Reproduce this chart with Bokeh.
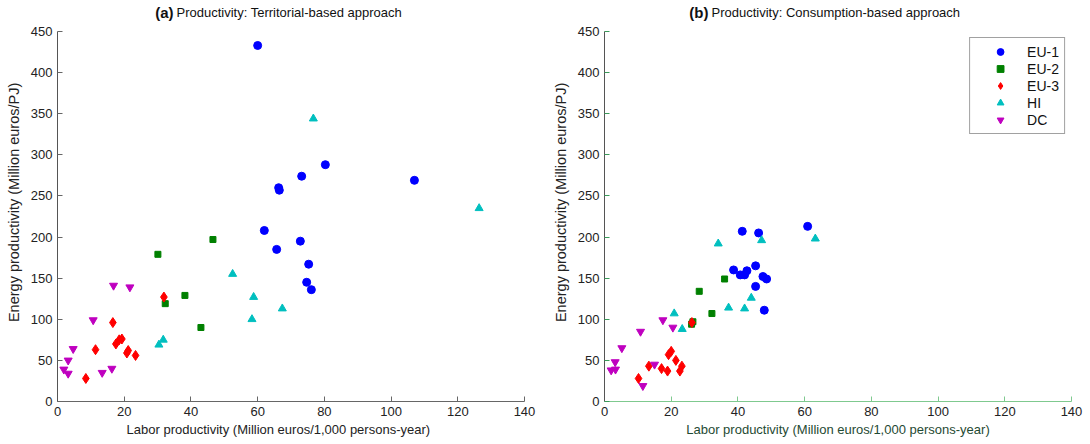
from bokeh.plotting import figure
from bokeh.layouts import row, column
from bokeh.models import Range1d, Legend, LegendItem
from bokeh.core.properties import value
from bokeh.embed import file_html
from bokeh.resources import INLINE

FONT = "Liberation Sans"

groups = ["EU-1", "EU-2", "EU-3", "HI", "DC"]
colors = ["#0000ff", "#008000", "#ff0000", "#00bfbf", "#bf00bf"]
markers = ["circle", "square", "diamond", "triangle", "inverted_triangle"]
sizes = [8, 6, 10, 8, 8]

x_ticks = [0, 20, 40, 60, 80, 100, 120, 140]
y_ticks = [0, 50, 100, 150, 200, 250, 300, 350, 400, 450]

# (a) Territorial-based approach
eu1_a_x = [60.0, 80.3, 73.2, 66.3, 66.5, 107.0, 62.0, 72.8, 65.7, 75.3, 74.7, 76.1]
eu1_a_y = [433, 288, 274, 260, 257, 269, 208, 195, 185, 167, 145, 136]
eu2_a_x = [30.1, 46.6, 38.2, 32.3, 43.0]
eu2_a_y = [179, 197, 129, 119, 90]
eu3_a_x = [31.9, 16.6, 11.4, 17.5, 18.5, 19.3, 21.2, 20.8, 23.4, 8.5]
eu3_a_y = [127, 96, 63, 70, 75, 76, 62, 59, 56, 28]
hi_a_x = [30.4, 31.7, 52.5, 58.8, 67.4, 58.3, 126.4, 76.7]
hi_a_y = [69, 75, 155, 127, 113, 100, 235, 344]
dc_a_x = [16.8, 21.7, 10.7, 4.7, 3.2, 1.9, 3.2, 13.4, 16.3]
dc_a_y = [141, 139, 99, 64, 50, 39, 34, 35, 40]

# (b) Consumption-based approach
eu1_b_x = [41.3, 46.2, 45.3, 38.7, 40.7, 42.0, 42.7, 47.5, 48.6, 45.3, 47.9, 60.9]
eu1_b_y = [207, 205, 165, 160, 154, 154, 159, 152, 149, 140, 111, 213]
eu2_b_x = [36.0, 28.4, 32.2, 26.5, 26.1]
eu2_b_y = [149, 134, 107, 97, 94]
eu3_b_x = [26.2, 20.0, 19.2, 21.4, 13.3, 17.1, 18.9, 23.2, 22.6, 10.2]
eu3_b_y = [96, 61, 57, 50, 43, 40, 37, 43, 37, 28]
hi_b_x = [34.1, 47.1, 44.0, 37.2, 42.0, 20.9, 23.3, 63.2]
hi_b_y = [192, 196, 126, 114, 113, 107, 88, 198]
dc_b_x = [17.5, 20.5, 10.8, 5.2, 3.2, 2.0, 3.3, 15.0, 11.5]
dc_b_y = [99, 90, 85, 65, 48, 38, 39, 45, 19]

title_letters = ["(a)", "(b)"]
title_texts = ["Productivity: Territorial-based approach",
               "Productivity: Consumption-based approach"]
x_label = "Labor productivity (Million euros/1,000 persons-year)"
y_label = "Energy productivity (Million euros/PJ)"

NBSP = "\u00a0"
TOP_STRIP = 22
LEFT_B = 57
FRAME_W = 467
FRAME_H = 370
R1 = 23
R2 = 14
W1 = LEFT_B + FRAME_W + R1
W2 = LEFT_B + FRAME_W + R2


def make_panel(series, border_right, xcol, ycol, xlabcol, xlab_pad):
    p = figure(frame_width=FRAME_W, frame_height=FRAME_H, output_backend="svg",
               toolbar_location=None, x_range=Range1d(0, 140), y_range=Range1d(0, 450),
               min_border_left=LEFT_B, min_border_right=border_right,
               min_border_top=9, min_border_bottom=40,
               background_fill_color="white", border_fill_color="white")
    p.outline_line_color = None
    p.grid.grid_line_color = None
    for ax in (p.xaxis[0], p.yaxis[0]):
        ax.major_tick_in = 5
        ax.major_tick_out = 0
        ax.minor_tick_line_color = None
        ax.major_label_text_font = FONT
        ax.major_label_text_font_size = "13px"
        ax.major_label_text_color = "#222222"
        ax.axis_label_text_font = FONT
        ax.axis_label_text_font_style = "normal"
        ax.axis_label_text_color = "#222222"
    p.xaxis.ticker = x_ticks
    p.yaxis.ticker = y_ticks
    p.xaxis.axis_label = x_label + NBSP * xlab_pad
    # label sits a little above the middle of the axis in the reference
    p.yaxis.axis_label = NBSP * 7 + y_label
    p.xaxis.axis_label_text_font_size = "13px"
    p.yaxis.axis_label_text_font_size = "14.5px"
    p.xaxis.major_label_standoff = 5
    p.xaxis.axis_label_standoff = 3
    p.yaxis.major_label_standoff = 5
    p.yaxis.axis_label_standoff = 6
    p.xaxis.axis_line_color = xcol
    p.xaxis.major_tick_line_color = xcol
    p.yaxis.axis_line_color = "#555555"
    p.yaxis.major_tick_line_color = ycol
    p.xaxis.axis_label_text_color = xlabcol

    renderers = []
    for (xs, ys), m, c, s in zip(series, markers, colors, sizes):
        r = p.scatter(xs, ys, marker=m, size=s, fill_color=c, line_color=c)
        renderers.append(r)
    return p, renderers


p1, _ = make_panel([(eu1_a_x, eu1_a_y), (eu2_a_x, eu2_a_y), (eu3_a_x, eu3_a_y),
                    (hi_a_x, hi_a_y), (dc_a_x, dc_a_y)],
                   R1, "#666666", "#666666", "#222222", 7)

p2, rs = make_panel([(eu1_b_x, eu1_b_y), (eu2_b_x, eu2_b_y), (eu3_b_x, eu3_b_y),
                     (hi_b_x, hi_b_y), (dc_b_x, dc_b_y)],
                    R2, "#7fc98f", "#3a9a5a", "#1f4a33", 0)

legend = Legend(items=[LegendItem(label=g, renderers=[r]) for g, r in zip(groups, rs)],
                location="top_right", margin=6, padding=5, spacing=0,
                glyph_width=50, glyph_height=17, label_height=17, label_standoff=2,
                label_text_font=FONT, label_text_font_size="14px",
                label_text_color="#111111",
                border_line_color="#444444", border_line_width=1,
                background_fill_color="white", background_fill_alpha=1.0)
p2.add_layout(legend)

# Title strip (pixel coordinates across the whole width)
TOTAL_W = W1 + W2
strip = figure(width=TOTAL_W, height=TOP_STRIP, output_backend="svg", toolbar_location=None,
               x_range=Range1d(0, TOTAL_W), y_range=Range1d(0, TOP_STRIP),
               min_border=0, border_fill_color="white", background_fill_color="white")
strip.axis.visible = False
strip.grid.grid_line_color = None
strip.outline_line_color = None
title_split_x = [174, 709]
title_y = TOP_STRIP - 12
strip.text(x=[sx - 1 for sx in title_split_x], y=[title_y] * 2, text=title_letters,
           text_align="right", text_baseline="middle", text_font=value(FONT),
           text_font_size="15px", text_font_style="bold", text_color="#111111")
strip.text(x=[sx + 2 for sx in title_split_x], y=[title_y] * 2, text=title_texts,
           text_align="left", text_baseline="middle", text_font=value(FONT),
           text_font_size="13px", text_color="#111111")

layout = column(strip, row(p1, p2), spacing=0)
open("out.html", "w").write(file_html(layout, INLINE))
